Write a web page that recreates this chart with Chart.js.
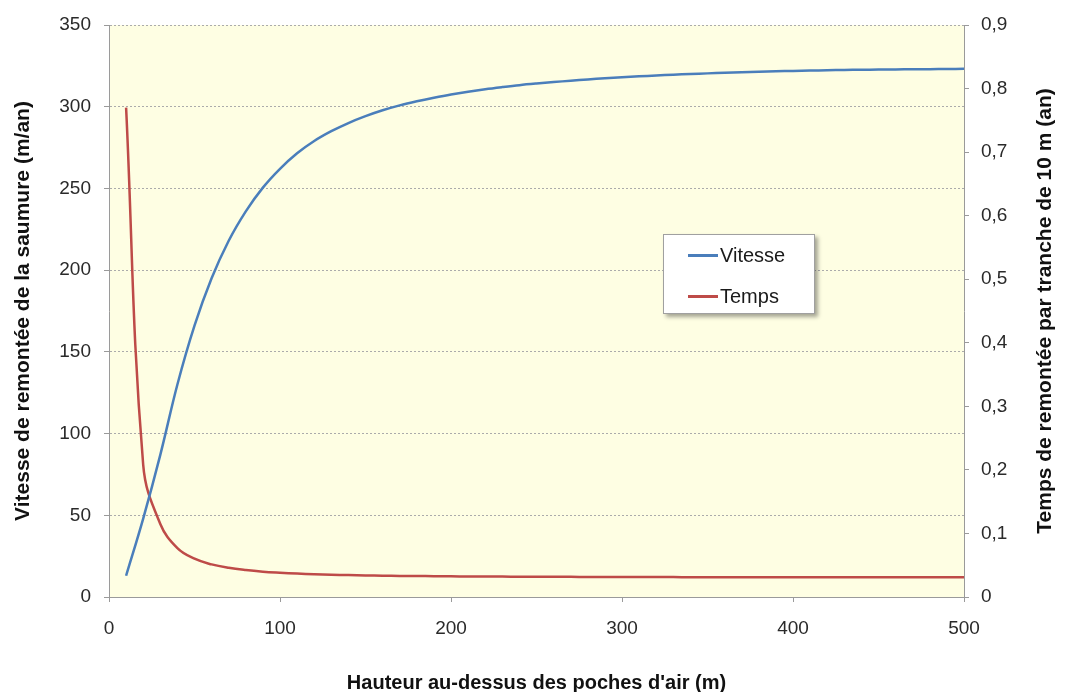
<!DOCTYPE html>
<html>
<head>
<meta charset="utf-8">
<script src="https://cdn.jsdelivr.net/npm/chart.js@4.4.0/dist/chart.umd.min.js"></script>
<style>
  html, body { margin: 0; padding: 0; background: #ffffff; }
  #wrap { position: relative; width: 1065px; height: 692px; }
  #legend {
    position: absolute; left: 663px; top: 234px; width: 150px; height: 78px;
    background: #ffffff; border: 1px solid #a0a0a0;
    box-shadow: 3px 3px 4px rgba(0,0,0,0.35);
    font-family: "Liberation Sans", Arial, sans-serif; font-size: 20px; color: #1a1a1a;
  }
  .item { position: absolute; left: 24px; height: 22px; display: flex; align-items: center; }
  .swatch { width: 30px; height: 3px; margin-right: 2px; }
</style>
</head>
<body>
<div id="wrap">
  <canvas id="c" width="1065" height="692"></canvas>
  <div id="legend"></div>
</div>
<script>
// ---- data ----
const hauteur = [10,20,30,40,50,60,70,80,90,100,110,120,130,140,150,160,170,180,190,200,
  210,220,230,240,250,260,270,280,290,300,310,320,330,340,350,360,370,380,390,400,
  410,420,430,440,450,460,470,480,490,500];
const vitesse = [13,48,87,130,166,195,218,236,250.5,262,271.5,279,285,290,294.2,297.8,300.8,303.3,305.5,307.5,
  309.2,310.7,312,313.2,314.2,315.1,315.9,316.7,317.4,318,318.6,319.1,319.6,320,320.4,320.8,321.1,321.4,321.7,321.9,
  322.1,322.3,322.5,322.6,322.7,322.8,322.9,323,323.1,323.2];
const temps = [0.77,0.208,0.115,0.0769,0.0602,0.0513,0.0459,0.0424,0.0399,0.0382,0.0368,0.0358,0.0351,0.0345,0.034,0.0336,0.0332,0.033,0.0327,0.0325,
  0.0323,0.0322,0.0321,0.0319,0.0318,0.0317,0.0317,0.0316,0.0315,0.0314,0.0314,0.0313,0.0313,0.0312,0.0312,0.0312,0.0311,0.0311,0.0311,0.0311,
  0.031,0.031,0.031,0.031,0.031,0.031,0.031,0.0309,0.0309,0.0309];
const seriesNames = ["Vitesse", "Temps"];
const xTitle = "Hauteur au-dessus des poches d'air (m)";
const yLeftTitle = "Vitesse de remontée de la saumure (m/an)";
const yRightTitle = "Temps de remontée par tranche de 10 m (an)";

const blue = "#4a7ebb", red = "#be4b48";
const axisGray = "#9a9a9a";
const FONT = "'Liberation Sans', Arial, sans-serif";

Chart.defaults.font.family = FONT;
Chart.defaults.color = "#2a2a2a";

const bgPlugin = {
  id: "plotBg",
  beforeDraw(chart) {
    const {ctx, chartArea: a} = chart;
    ctx.save();
    ctx.fillStyle = "#fefee3";
    ctx.fillRect(a.left, a.top, a.right - a.left, a.bottom - a.top);
    ctx.restore();
  }
};

// right-axis title reading bottom-to-top (like the left one)
const rightTitlePlugin = {
  id: "rightTitle",
  afterDraw(chart) {
    const s = chart.scales.y2;
    const {ctx, chartArea: a} = chart;
    ctx.save();
    ctx.translate(1045, (a.top + a.bottom) / 2);
    ctx.rotate(-Math.PI / 2);
    ctx.font = "bold 21px " + FONT;
    ctx.fillStyle = "#111";
    ctx.textAlign = "center";
    ctx.textBaseline = "middle";
    ctx.fillText(s.options.customTitle, 0, 0);
    ctx.restore();
  }
};

function fr(v) {
  const r = Math.round(v * 10) / 10;
  return r === 0 ? "0" : r.toFixed(1).replace(".", ",");
}

const chart = new Chart(document.getElementById("c"), {
  type: "line",
  data: {
    datasets: [
      { label: seriesNames[0], data: hauteur.map((h, i) => ({x: h, y: vitesse[i]})),
        borderColor: blue, borderWidth: 2.5, pointRadius: 0, tension: 0.35, yAxisID: "y" },
      { label: seriesNames[1], data: hauteur.map((h, i) => ({x: h, y: temps[i]})),
        borderColor: red, borderWidth: 2.5, pointRadius: 0, tension: 0.4, yAxisID: "y2" }
    ]
  },
  options: {
    responsive: false,
    animation: false,
    layout: { padding: { top: 25, left: 0, right: 0, bottom: 0 } },
    plugins: { legend: { display: false }, tooltip: { enabled: false } },
    scales: {
      x: {
        type: "linear", min: 0, max: 500,
        ticks: { stepSize: 100, font: { size: 19 }, padding: 15, maxRotation: 0 },
        grid: { drawOnChartArea: false, drawTicks: true, tickLength: 5, tickColor: axisGray },
        border: { color: axisGray, width: 1 },
        title: { display: true, text: xTitle, font: { size: 20, weight: "bold", lineHeight: 0.9 }, color: "#111", padding: { top: 0, bottom: 0 } },
        afterFit(s) { s.height = 95; }
      },
      y: {
        position: "left", min: 0, max: 350,
        ticks: { stepSize: 50, font: { size: 19 }, padding: 13 },
        grid: { color: "#ababab", tickBorderDash: [], tickColor: axisGray, tickLength: 5, lineWidth: 1 },
        border: { color: axisGray, width: 1, dash: [2, 2] },
        title: { display: true, text: yLeftTitle, font: { size: 21, weight: "bold", lineHeight: 1.1 }, color: "#111", padding: { top: 12, bottom: 0 } },
        afterFit(s) { s.width = 109; }
      },
      y2: {
        position: "right", min: 0, max: 0.9,
        customTitle: yRightTitle,
        ticks: { stepSize: 0.1, font: { size: 19 }, padding: 12, callback: (v) => fr(v) },
        grid: { drawOnChartArea: false, tickColor: axisGray, tickLength: 5 },
        border: { color: axisGray, width: 1 },
        title: { display: false },
        afterFit(s) { s.width = 101; }
      }
    }
  },
  plugins: [bgPlugin, rightTitlePlugin]
});

// HTML legend built from the datasets
const lg = document.getElementById("legend");
chart.data.datasets.forEach((ds, i) => {
  const it = document.createElement("div");
  it.className = "item";
  it.style.top = (i === 0 ? 9 : 50) + "px";
  const sw = document.createElement("span");
  sw.className = "swatch";
  sw.style.background = ds.borderColor;
  const tx = document.createElement("span");
  tx.textContent = ds.label;
  it.appendChild(sw); it.appendChild(tx);
  lg.appendChild(it);
});
</script>
</body>
</html>
